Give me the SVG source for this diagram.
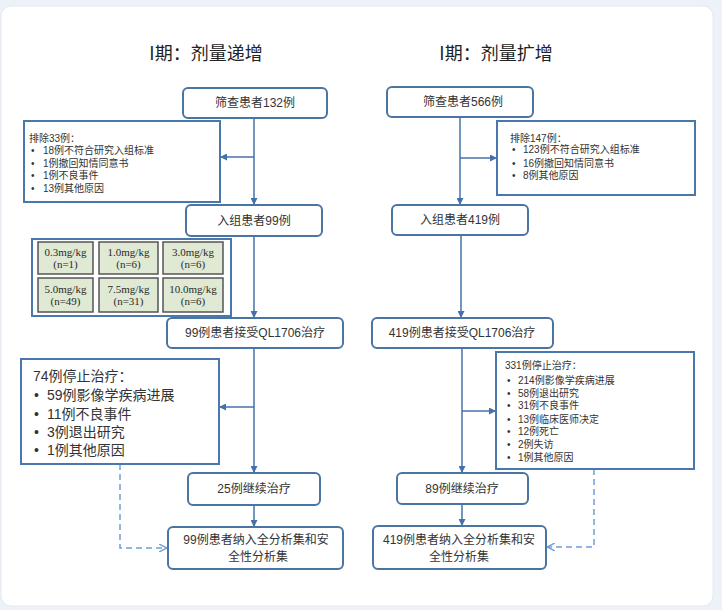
<svg xmlns="http://www.w3.org/2000/svg" width="722" height="610" viewBox="0 0 722 610">
<defs>
<style>
.t{font-family:"Liberation Sans","Noto Sans CJK SC",sans-serif;fill:#333333}
.h{font-family:"Noto Sans CJK SC","Noto Sans",sans-serif;fill:#222222}
.box{fill:#ffffff;stroke:#4a74a4;stroke-width:2}
.sq{fill:#ffffff;stroke:#4a78ad;stroke-width:2}
.cell{fill:#dfe9d3;stroke:#555555;stroke-width:1.5}
.serif{font-family:"Liberation Serif","DejaVu Serif",serif;font-size:11px;fill:#2a2a2a}
.ln{fill:none;stroke:#4472a8;stroke-width:1.5}
.dash{fill:none;stroke:#6ea0d8;stroke-width:1.5;stroke-dasharray:6 4}
</style>
<marker id="ah" viewBox="0 0 10 10" refX="10" refY="5" markerWidth="7" markerHeight="7" markerUnits="userSpaceOnUse" orient="auto"><path d="M0,0 L10,5 L0,10 z" fill="#4472a8"/></marker>
<marker id="ahd" viewBox="0 0 10 10" refX="10" refY="5" markerWidth="8" markerHeight="8" markerUnits="userSpaceOnUse" orient="auto"><path d="M0,0 L10,5 L0,10" fill="none" stroke="#6ea0d8" stroke-width="1.8"/></marker>
</defs>
<rect x="0" y="0" width="722" height="610" fill="#edf2f8"/>
<rect x="1" y="6" width="712" height="600" rx="10" fill="#ffffff" stroke="#e4e9f0"/>

<text class="h" x="206" y="60" font-size="18" text-anchor="middle">I期：剂量递增</text>
<text class="h" x="496" y="60" font-size="18" text-anchor="middle">I期：剂量扩增</text>

<g id="connectors">
<line class="ln" x1="254" y1="118" x2="254" y2="205" marker-end="url(#ah)"/>
<line class="ln" x1="254" y1="157" x2="220" y2="157" marker-end="url(#ah)"/>
<line class="ln" x1="254" y1="236" x2="254" y2="318" marker-end="url(#ah)"/>
<line class="ln" x1="254" y1="348" x2="254" y2="473" marker-end="url(#ah)"/>
<line class="ln" x1="254" y1="407" x2="219" y2="407" marker-end="url(#ah)"/>
<line class="ln" x1="254" y1="505" x2="254" y2="527" marker-end="url(#ah)"/>
<path class="dash" d="M120,464 V548 H167" marker-end="url(#ahd)"/>

<line class="ln" x1="460" y1="117" x2="460" y2="205" marker-end="url(#ah)"/>
<line class="ln" x1="460" y1="158" x2="497" y2="158" marker-end="url(#ah)"/>
<line class="ln" x1="461" y1="235" x2="461" y2="318" marker-end="url(#ah)"/>
<line class="ln" x1="462" y1="348" x2="462" y2="473" marker-end="url(#ah)"/>
<line class="ln" x1="462" y1="411" x2="496" y2="411" marker-end="url(#ah)"/>
<line class="ln" x1="462" y1="504" x2="462" y2="526" marker-end="url(#ah)"/>
<path class="dash" d="M594,469 V547 H547" marker-end="url(#ahd)"/>
</g>

<g id="screen-left">
<rect class="box" x="183" y="88" width="144" height="30" rx="5"/>
<text class="t" x="255" y="107" font-size="12" text-anchor="middle">筛查患者132例</text>
</g>
<g id="exclude-left">
<rect class="sq" x="24" y="121" width="196" height="81"/>
<g class="t" font-size="10">
<text x="29" y="142">排除33例：</text>
<text x="31" y="154">•</text><text x="43" y="154">18例不符合研究入组标准</text>
<text x="31" y="167">•</text><text x="43" y="167">1例撤回知情同意书</text>
<text x="31" y="179">•</text><text x="43" y="179">1例不良事件</text>
<text x="31" y="192">•</text><text x="43" y="192">13例其他原因</text>
</g>
</g>
<g id="enroll-left">
<rect class="box" x="186" y="205" width="136" height="31" rx="5"/>
<text class="t" x="254" y="225" font-size="12" text-anchor="middle">入组患者99例</text>
</g>
<g id="dose-table">
<rect x="32" y="239" width="199" height="77" fill="#ffffff" stroke="#4a78ad" stroke-width="2"/>
<rect class="cell" x="38" y="242" width="55" height="32"/>
<rect class="cell" x="99" y="242" width="59" height="32"/>
<rect class="cell" x="163" y="242" width="60" height="32"/>
<rect class="cell" x="38" y="278" width="55" height="34"/>
<rect class="cell" x="99" y="278" width="59" height="34"/>
<rect class="cell" x="163" y="278" width="60" height="34"/>
<g class="serif" text-anchor="middle">
<text x="65.5" y="256">0.3mg/kg</text><text x="65.5" y="268">(n=1)</text>
<text x="128.5" y="256">1.0mg/kg</text><text x="128.5" y="268">(n=6)</text>
<text x="193" y="256">3.0mg/kg</text><text x="193" y="268">(n=6)</text>
<text x="65.5" y="293">5.0mg/kg</text><text x="65.5" y="305">(n=49)</text>
<text x="128.5" y="293">7.5mg/kg</text><text x="128.5" y="305">(n=31)</text>
<text x="193" y="293">10.0mg/kg</text><text x="193" y="305">(n=6)</text>
</g>
</g>
<g id="treat-left">
<rect class="box" x="167" y="318" width="176" height="30" rx="5"/>
<text class="t" x="255" y="337" font-size="12" text-anchor="middle">99例患者接受QL1706治疗</text>
</g>
<g id="stop-left">
<rect class="sq" x="21" y="359" width="198" height="105"/>
<g class="t" font-size="14">
<text x="33" y="381">74例停止治疗：</text>
<text x="34" y="400">•</text><text x="47" y="400">59例影像学疾病进展</text>
<text x="34" y="419">•</text><text x="47" y="419">11例不良事件</text>
<text x="34" y="437">•</text><text x="47" y="437">3例退出研究</text>
<text x="34" y="455">•</text><text x="47" y="455">1例其他原因</text>
</g>
</g>
<g id="continue-left">
<rect class="box" x="188" y="473" width="132" height="32" rx="5"/>
<text class="t" x="254" y="493" font-size="12" text-anchor="middle">25例继续治疗</text>
</g>
<g id="analysis-left">
<rect class="box" x="168" y="527" width="175" height="42" rx="5"/>
<text class="t" x="256" y="544" font-size="12" text-anchor="middle">99例患者纳入全分析集和安</text>
<text class="t" x="258" y="561" font-size="12" text-anchor="middle">全性分析集</text>
</g>

<g id="screen-right">
<rect class="box" x="387" y="87" width="146" height="30" rx="5"/>
<text class="t" x="463" y="106" font-size="12" text-anchor="middle">筛查患者566例</text>
</g>
<g id="exclude-right">
<rect class="sq" x="497" y="121" width="198" height="74"/>
<g class="t" font-size="10">
<text x="510" y="142">排除147例：</text>
<text x="512" y="153">•</text><text x="523" y="153">123例不符合研究入组标准</text>
<text x="512" y="167">•</text><text x="523" y="167">16例撤回知情同意书</text>
<text x="512" y="179">•</text><text x="523" y="179">8例其他原因</text>
</g>
</g>
<g id="enroll-right">
<rect class="box" x="392" y="205" width="136" height="30" rx="5"/>
<text class="t" x="460" y="224" font-size="12" text-anchor="middle">入组患者419例</text>
</g>
<g id="treat-right">
<rect class="box" x="372" y="318" width="181" height="30" rx="5"/>
<text class="t" x="462" y="337" font-size="12" text-anchor="middle">419例患者接受QL1706治疗</text>
</g>
<g id="stop-right">
<rect class="sq" x="496" y="352" width="198" height="117"/>
<g class="t" font-size="10">
<text x="505" y="369">331例停止治疗：</text>
<text x="507" y="384">•</text><text x="518" y="384">214例影像学疾病进展</text>
<text x="507" y="397">•</text><text x="518" y="397">58例退出研究</text>
<text x="507" y="409">•</text><text x="518" y="409">31例不良事件</text>
<text x="507" y="423">•</text><text x="518" y="423">13例临床医师决定</text>
<text x="507" y="435">•</text><text x="518" y="435">12例死亡</text>
<text x="507" y="448">•</text><text x="518" y="448">2例失访</text>
<text x="507" y="461">•</text><text x="518" y="461">1例其他原因</text>
</g>
</g>
<g id="continue-right">
<rect class="box" x="397" y="473" width="131" height="31" rx="5"/>
<text class="t" x="462" y="493" font-size="12" text-anchor="middle">89例继续治疗</text>
</g>
<g id="analysis-right">
<rect class="box" x="373" y="526" width="173" height="43" rx="5"/>
<text class="t" x="459" y="544" font-size="12" text-anchor="middle">419例患者纳入全分析集和安</text>
<text class="t" x="459" y="561" font-size="12" text-anchor="middle">全性分析集</text>
</g>
</svg>
